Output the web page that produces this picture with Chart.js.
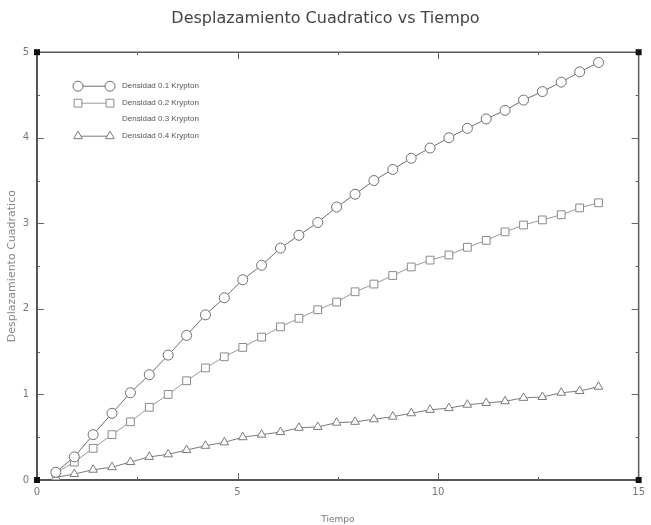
<!DOCTYPE html>
<html>
<head>
<meta charset="utf-8">
<title>Desplazamiento Cuadratico vs Tiempo</title>
<script src="https://cdn.jsdelivr.net/npm/chart.js@4/dist/chart.umd.min.js"></script>
<style>
  html, body { margin: 0; padding: 0; background: #ffffff; }
  canvas { display: block; }
</style>
</head>
<body>
<canvas id="chart" width="651" height="525"></canvas>
<script>
// Sampling times
const tiempo = [0.47, 0.93, 1.40, 1.87, 2.33, 2.80, 3.27, 3.73, 4.20, 4.67,
                5.13, 5.60, 6.07, 6.53, 7.00, 7.47, 7.93, 8.40, 8.87, 9.33,
                9.80, 10.27, 10.73, 11.20, 11.67, 12.13, 12.60, 13.07, 13.53, 14.00];

// Mean square displacement per density
const densidad01 = [0.09, 0.27, 0.53, 0.78, 1.02, 1.23, 1.46, 1.69, 1.93, 2.13,
                    2.34, 2.51, 2.71, 2.86, 3.01, 3.19, 3.34, 3.50, 3.63, 3.76,
                    3.88, 4.00, 4.11, 4.22, 4.32, 4.44, 4.54, 4.65, 4.77, 4.88];
const densidad02 = [0.08, 0.21, 0.37, 0.53, 0.68, 0.85, 1.00, 1.16, 1.31, 1.44,
                    1.55, 1.67, 1.79, 1.89, 1.99, 2.08, 2.20, 2.29, 2.39, 2.49,
                    2.57, 2.63, 2.72, 2.80, 2.90, 2.98, 3.04, 3.10, 3.18, 3.24];
const densidad03 = [];
const densidad04 = [0.03, 0.07, 0.12, 0.15, 0.21, 0.27, 0.30, 0.35, 0.40, 0.44,
                    0.50, 0.53, 0.56, 0.61, 0.62, 0.67, 0.68, 0.71, 0.74, 0.78,
                    0.82, 0.84, 0.88, 0.90, 0.92, 0.96, 0.97, 1.02, 1.04, 1.09];

const seriesLabels = ['Densidad 0.1 Krypton', 'Densidad 0.2 Krypton',
                      'Densidad 0.3 Krypton', 'Densidad 0.4 Krypton'];

const xTicks = [0, 5, 10, 15];
const yTicks = [0, 1, 2, 3, 4, 5];

const toPoints = vals => vals.map((v, i) => ({ x: tiempo[i], y: v }));

// Frame: top/right edges, inward ticks on all sides, black corner squares
const framePlugin = {
  id: 'frame',
  afterDraw(chart) {
    const { ctx, chartArea: a, scales } = chart;
    const x = scales.x, y = scales.y;
    ctx.save();
    ctx.strokeStyle = '#5a5a5a';
    ctx.lineWidth = 1.5;
    ctx.beginPath();
    ctx.moveTo(a.left, a.top); ctx.lineTo(a.right, a.top);
    ctx.moveTo(a.right, a.top); ctx.lineTo(a.right, a.bottom);
    ctx.stroke();

    ctx.lineWidth = 1;
    ctx.strokeStyle = '#666';
    ctx.beginPath();
    for (let v = 2.5; v < 15; v += 2.5) {
      const px = Math.round(x.getPixelForValue(v)) + 0.5;
      const len = (v % 5 === 0) ? 7 : 3;
      ctx.moveTo(px, a.bottom); ctx.lineTo(px, a.bottom - len);
      ctx.moveTo(px, a.top); ctx.lineTo(px, a.top + len);
    }
    for (let v = 0.5; v < 5; v += 0.5) {
      const py = Math.round(y.getPixelForValue(v)) + 0.5;
      const len = (v % 1 === 0) ? 7 : 3;
      ctx.moveTo(a.left, py); ctx.lineTo(a.left + len, py);
      ctx.moveTo(a.right, py); ctx.lineTo(a.right - len, py);
    }
    ctx.stroke();

    ctx.fillStyle = '#111';
    const s = 6;
    [[a.left, a.top], [a.right, a.top], [a.left, a.bottom], [a.right, a.bottom]]
      .forEach(([cx, cy]) => ctx.fillRect(cx - s / 2, cy - s / 2, s, s));
    ctx.restore();
  }
};

// Legend drawn as marker - line - marker followed by the label
const legendPlugin = {
  id: 'sampleLegend',
  afterDatasetsDraw(chart) {
    const { ctx, chartArea: a } = chart;
    const x1 = a.left + 41, x2 = a.left + 73, tx = a.left + 85;
    const rowY = [a.top + 34, a.top + 51, a.top + 67, a.top + 84];
    ctx.save();
    chart.data.datasets.forEach((ds, i) => {
      const yy = rowY[i];
      if (ds.data.length) {
        ctx.strokeStyle = ds.borderColor;
        ctx.lineWidth = 1;
        ctx.beginPath(); ctx.moveTo(x1, yy); ctx.lineTo(x2, yy); ctx.stroke();
        ctx.fillStyle = ds.pointBackgroundColor;
        ctx.strokeStyle = ds.pointBorderColor;
        const opts = { pointStyle: ds.pointStyle, radius: ds.pointRadius, rotation: 0, borderWidth: 1 };
        Chart.helpers.drawPoint(ctx, opts, x1, yy);
        Chart.helpers.drawPoint(ctx, opts, x2, yy);
      }
      ctx.fillStyle = '#555';
      ctx.font = '8px "Liberation Sans", Arial, sans-serif';
      ctx.textBaseline = 'middle';
      ctx.textAlign = 'left';
      ctx.fillText(ds.label, tx, yy);
    });
    ctx.restore();
  }
};

new Chart(document.getElementById('chart'), {
  type: 'line',
  data: {
    datasets: [
      {
        label: seriesLabels[0], data: toPoints(densidad01),
        borderColor: '#6e6e6e', borderWidth: 1,
        pointStyle: 'circle', pointRadius: 5,
        pointBackgroundColor: '#ffffff', pointBorderColor: '#6e6e6e', pointBorderWidth: 1
      },
      {
        label: seriesLabels[1], data: toPoints(densidad02),
        borderColor: '#9a9a9a', borderWidth: 1,
        pointStyle: 'rect', pointRadius: 5.5,
        pointBackgroundColor: '#ffffff', pointBorderColor: '#8a8a8a', pointBorderWidth: 1
      },
      {
        label: seriesLabels[2], data: toPoints(densidad03),
        borderColor: '#ffffff', borderWidth: 0,
        pointStyle: 'circle', pointRadius: 0,
        pointBackgroundColor: '#ffffff', pointBorderColor: '#ffffff'
      },
      {
        label: seriesLabels[3], data: toPoints(densidad04),
        borderColor: '#7a7a7a', borderWidth: 1,
        pointStyle: 'triangle', pointRadius: 5,
        pointBackgroundColor: '#ffffff', pointBorderColor: '#7a7a7a', pointBorderWidth: 1
      }
    ]
  },
  options: {
    responsive: false,
    animation: false,
    layout: { padding: 0 },
    plugins: {
      legend: { display: false },
      tooltip: { enabled: false },
      title: {
        display: true,
        text: 'Desplazamiento Cuadratico vs Tiempo',
        color: '#444',
        font: { family: '"DejaVu Sans", sans-serif', size: 16, weight: 'normal' },
        padding: { top: 9, bottom: 24 }
      }
    },
    scales: {
      x: {
        type: 'linear', min: 0, max: 15,
        afterFit(scale) { scale.height = 45; },
        afterBuildTicks(scale) { scale.ticks = xTicks.map(v => ({ value: v })); },
        grid: { display: false, drawTicks: false },
        border: { display: true, color: '#555', width: 2 },
        ticks: { color: '#777', padding: 6, font: { family: '"DejaVu Sans", sans-serif', size: 10 } },
        title: {
          display: true, text: 'Tiempo', color: '#777',
          font: { family: '"DejaVu Sans", sans-serif', size: 9 },
          padding: { top: 0, bottom: 0 }
        }
      },
      y: {
        type: 'linear', min: 0, max: 5,
        afterFit(scale) { scale.width = 37; },
        afterBuildTicks(scale) { scale.ticks = yTicks.map(v => ({ value: v })); },
        grid: { display: false, drawTicks: false },
        border: { display: true, color: '#555', width: 2 },
        ticks: { color: '#777', padding: 8, font: { family: '"DejaVu Sans", sans-serif', size: 10 } },
        title: {
          display: true, text: 'Desplazamiento Cuadratico', color: '#888',
          font: { family: '"DejaVu Sans", sans-serif', size: 11 },
          padding: { top: 6, bottom: 0 }
        }
      },
      yRight: {
        type: 'linear', position: 'right', min: 0, max: 5,
        afterFit(scale) { scale.width = 11; },
        grid: { display: false, drawTicks: false },
        border: { display: false },
        ticks: { display: false }
      }
    }
  },
  plugins: [framePlugin, legendPlugin]
});
</script>
</body>
</html>
